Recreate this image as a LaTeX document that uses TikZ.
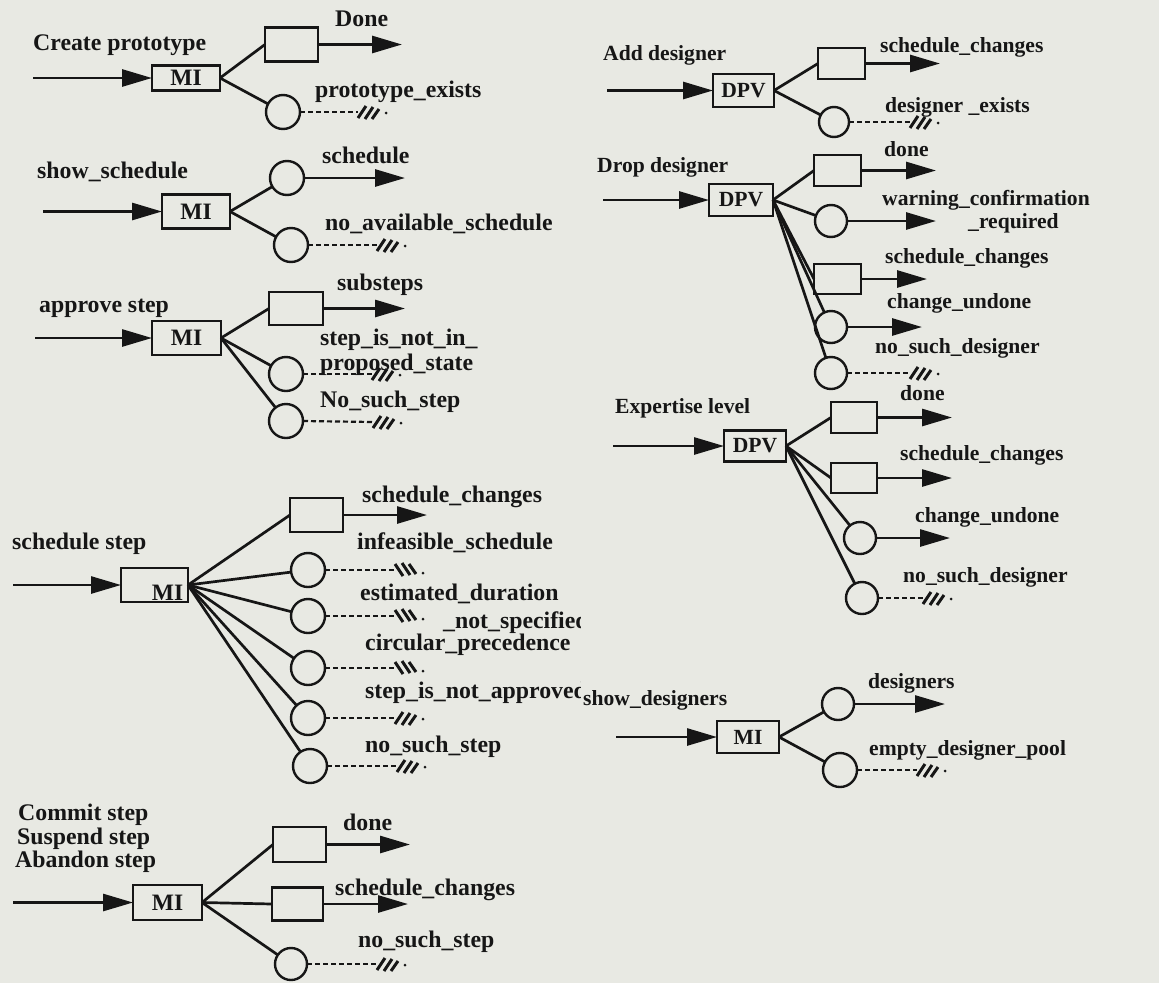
\documentclass[tikz,border=0pt]{standalone}
\usepackage{fontspec}
\setmainfont{Liberation Serif}
\usetikzlibrary{arrows.meta}
\definecolor{bg}{RGB}{232,233,227}
\definecolor{ink}{RGB}{22,22,22}
\begin{document}
\begin{tikzpicture}[x=1pt,y=-1pt, ink, line join=miter,
  lt/.style={anchor=base west, inner sep=0pt, text=ink, font=\fontsize{23.8}{27}\selectfont\bfseries},
  rt/.style={anchor=base west, inner sep=0pt, text=ink, font=\fontsize{21.6}{25}\selectfont\bfseries},
  opbox/.style={draw=ink, line width=2.4pt, inner sep=0pt, outer sep=0pt},
  lop/.style={opbox, font=\fontsize{23.5}{27}\selectfont\bfseries},
  rop/.style={opbox, font=\fontsize{21.6}{25}\selectfont\bfseries},
  resbox/.style={draw=ink, line width=2.4pt, inner sep=0pt, outer sep=0pt},
  rcirc/.style={draw=ink, circle, line width=2.4pt, inner sep=0pt, outer sep=0pt, minimum size=#1},
  rcirc/.default=34pt,
  link/.style={draw=ink, line width=2.7pt},
  arr/.style={draw=ink, line width=2.8pt, -{Triangle[length=30pt,width=17pt]}},
  exc/.style={draw=ink, line width=2.2pt, dash pattern=on 5pt off 3pt},
  hatchf/.pic={\draw[ink, line width=3pt] (0,6)--(8,-6) (7,7)--(15,-5) (14,7)--(21,-3); \fill[ink] (28,1) circle (1.5);},
  hatchb/.pic={\draw[ink, line width=3pt] (0,-6)--(8,6) (7,-7)--(15,5) (14,-6)--(21,4); \fill[ink] (28,3) circle (1.5);}
]
\path[use as bounding box, fill=bg] (0,0) rectangle (1159,983);

% ---------------- Group 1: Create prototype
\node[lt] (l1) at (33,50) {Create prototype};
\coordinate (s1) at (33,78);
\node[lop, minimum width=68pt, minimum height=25pt] (m1) at (186,78) {MI};
\node[resbox, minimum width=53pt, minimum height=34pt] (r1a) at (291.5,44.5) {};
\coordinate (o1a) at (402,44.5);
\node[rcirc] (c1a) at (283,112) {};
\coordinate (h1a) at (358,112);
\draw[arr] (s1) -- (m1.west);
\draw[link] (m1.east) -- (r1a.west);
\draw[link] (m1.east) -- (c1a);
\draw[arr] (r1a.east) -- (o1a);
\draw[exc] (c1a.east) -- (h1a);
\pic at (h1a) {hatchf};
\node[lt] at (335,26) {Done};
\node[lt] at (315,97) {prototype\_exists};

% ---------------- Group 2: show_schedule
\node[lt] (l2) at (37,178) {show\_schedule};
\coordinate (s2) at (43,211.5);
\node[lop, minimum width=68pt, minimum height=34pt] (m2) at (196,211.5) {MI};
\node[rcirc] (c2a) at (287,178) {};
\coordinate (o2a) at (405,178);
\node[rcirc] (c2b) at (291,245) {};
\coordinate (h2b) at (377,245);
\draw[arr] (s2) -- (m2.west);
\draw[link] (m2.east) -- (c2a);
\draw[link] (m2.east) -- (c2b);
\draw[arr] (c2a.east) -- (o2a);
\draw[exc] (c2b.east) -- (h2b);
\pic at (h2b) {hatchf};
\node[lt] at (322,163) {schedule};
\node[lt] at (325,230) {no\_available\_schedule};

% ---------------- Group 3: approve step
\node[lt] (l3) at (39,312) {approve step};
\coordinate (s3) at (35,338);
\node[lop, minimum width=69pt, minimum height=34pt] (m3) at (186.5,338) {MI};
\node[resbox, minimum width=54pt, minimum height=33pt] (r3a) at (296,308.5) {};
\coordinate (o3a) at (405,308.5);
\node[rcirc] (c3a) at (286,374) {};
\coordinate (h3a) at (372,374);
\node[rcirc] (c3b) at (286,421) {};
\coordinate (h3b) at (373,422);
\draw[arr] (s3) -- (m3.west);
\draw[link] (m3.east) -- (r3a.west);
\draw[link] (m3.east) -- (c3a);
\draw[link] (m3.east) -- (c3b);
\draw[arr] (r3a.east) -- (o3a);
\draw[exc] (c3a.east) -- (h3a);
\pic at (h3a) {hatchf};
\draw[exc] (c3b.east) -- (h3b);
\pic at (h3b) {hatchf};
\node[lt] at (337,290) {substeps};
\node[lt] at (320,345) {step\_is\_not\_in\_};
\node[lt] at (320,370) {proposed\_state};
\node[lt] at (320,407) {No\_such\_step};

% ---------------- Group 4: schedule step
\node[lt] (l4) at (12,549) {schedule step};
\coordinate (s4) at (13,585);
\node[opbox, minimum width=67pt, minimum height=34pt] (m4) at (154.5,585) {};
\node[lt, anchor=base, font=\fontsize{23.5}{27}\selectfont\bfseries] (m4t) at (167.5,600) {MI};
\node[resbox, minimum width=53pt, minimum height=34pt] (r4a) at (316.5,515) {};
\coordinate (o4a) at (427,515);
\node[rcirc] (c4a) at (308,570) {};
\node[rcirc] (c4b) at (308,616) {};
\node[rcirc] (c4c) at (308,668) {};
\node[rcirc] (c4d) at (308,718) {};
\node[rcirc] (c4e) at (310,766) {};
\coordinate (h4a) at (395,570);
\coordinate (h4b) at (395,616);
\coordinate (h4c) at (395,668);
\coordinate (h4d) at (395,718);
\coordinate (h4e) at (397,766);
\draw[arr] (s4) -- (m4.west);
\draw[link] (m4.east) -- (r4a.west);
\foreach \c in {c4a,c4b,c4c,c4d,c4e} \draw[link] (m4.east) -- (\c);
\draw[arr] (r4a.east) -- (o4a);
\draw[exc] (c4a.east) -- (h4a); \pic at (h4a) {hatchb};
\draw[exc] (c4b.east) -- (h4b); \pic at (h4b) {hatchb};
\draw[exc] (c4c.east) -- (h4c); \pic at (h4c) {hatchb};
\draw[exc] (c4d.east) -- (h4d); \pic at (h4d) {hatchf};
\draw[exc] (c4e.east) -- (h4e); \pic at (h4e) {hatchf};
\node[lt] at (362,502) {schedule\_changes};
\node[lt] at (357,549) {infeasible\_schedule};
\node[lt] at (360,600) {estimated\_duration};
\node[lt] at (365,650) {circular\_precedence};
\node[lt] at (365,752) {no\_such\_step};
\begin{scope}
\clip (0,0) rectangle (580,983);
\node[lt] at (443,628) {\_not\_specified};
\node[lt] at (365,698) {step\_is\_not\_approved};
\end{scope}

% ---------------- Group 5: Commit / Suspend / Abandon step
\node[lt] (l5a) at (18,820) {Commit step};
\node[lt] (l5b) at (17,844) {Suspend step};
\node[lt] (l5c) at (15,867) {Abandon step};
\coordinate (s5) at (13,902.5);
\node[lop, minimum width=69pt, minimum height=35pt] (m5) at (167.5,902.5) {MI};
\node[resbox, minimum width=53pt, minimum height=35pt] (r5a) at (299.5,844.5) {};
\node[resbox, minimum width=51pt, minimum height=33pt] (r5b) at (297.5,904) {};
\coordinate (o5a) at (410,844.5);
\coordinate (o5b) at (408,904);
\node[rcirc=32pt] (c5a) at (291,964) {};
\coordinate (h5a) at (377,964);
\draw[arr] (s5) -- (m5.west);
\draw[link] (m5.east) -- (r5a.west);
\draw[link] (m5.east) -- (r5b.west);
\draw[link] (m5.east) -- (c5a);
\draw[arr] (r5a.east) -- (o5a);
\draw[arr] (r5b.east) -- (o5b);
\draw[exc] (c5a.east) -- (h5a); \pic at (h5a) {hatchf};
\node[lt] at (343,830) {done};
\node[lt] at (335,895) {schedule\_changes};
\node[lt] at (358,947) {no\_such\_step};

% ---------------- Group 6: Add designer
\node[rt] (l6) at (603,60) {Add designer};
\coordinate (s6) at (607,90.5);
\node[rop, minimum width=61pt, minimum height=33pt] (m6) at (743.5,90.5) {DPV};
\node[resbox, minimum width=47pt, minimum height=31pt] (r6a) at (841.5,63.5) {};
\coordinate (o6a) at (940,63.5);
\node[rcirc=30pt] (c6a) at (834,122) {};
\coordinate (h6a) at (910,122);
\draw[arr] (s6) -- (m6.west);
\draw[link] (m6.east) -- (r6a.west);
\draw[link] (m6.east) -- (c6a);
\draw[arr] (r6a.east) -- (o6a);
\draw[exc] (c6a.east) -- (h6a); \pic at (h6a) {hatchf};
\node[rt] at (880,52) {schedule\_changes};
\node[rt] at (885,112) {designer \_exists};

% ---------------- Group 7: Drop designer
\node[rt] (l7) at (597,172) {Drop designer};
\coordinate (s7) at (603,200);
\node[rop, minimum width=64pt, minimum height=32pt] (m7) at (741,200) {DPV};
\node[resbox, minimum width=47pt, minimum height=31pt] (r7a) at (837.5,170.5) {};
\node[rcirc=32pt] (c7a) at (831,221) {};
\node[resbox, minimum width=47pt, minimum height=30pt] (r7b) at (837.5,279) {};
\node[rcirc=32pt] (c7b) at (831,327) {};
\node[rcirc=32pt] (c7c) at (831,373) {};
\coordinate (o7a) at (936,170.5);
\coordinate (o7b) at (936,221);
\coordinate (o7c) at (927,279);
\coordinate (o7d) at (922,327);
\coordinate (h7c) at (910,373);
\draw[arr] (s7) -- (m7.west);
\foreach \c in {r7a.west,c7a,r7b.west,c7b,c7c} \draw[link] (m7.east) -- (\c);
\draw[arr] (r7a.east) -- (o7a);
\draw[arr] (c7a.east) -- (o7b);
\draw[arr] (r7b.east) -- (o7c);
\draw[arr] (c7b.east) -- (o7d);
\draw[exc] (c7c.east) -- (h7c); \pic at (h7c) {hatchf};
\node[rt] at (884,156) {done};
\node[rt] at (882,205) {warning\_confirmation};
\node[rt] at (968,228) {\_required};
\node[rt] at (885,263) {schedule\_changes};
\node[rt] at (887,308) {change\_undone};
\node[rt] at (875,353) {no\_such\_designer};

% ---------------- Group 8: Expertise level
\node[rt] (l8) at (615,413) {Expertise level};
\coordinate (s8) at (613,446);
\node[rop, minimum width=62pt, minimum height=31pt] (m8) at (755,446) {DPV};
\node[resbox, minimum width=46pt, minimum height=31pt] (r8a) at (854,417.5) {};
\node[resbox, minimum width=46pt, minimum height=30pt] (r8b) at (854,478) {};
\node[rcirc=32pt] (c8a) at (860,538) {};
\node[rcirc=32pt] (c8b) at (862,598) {};
\coordinate (o8a) at (952,417.5);
\coordinate (o8b) at (952,478);
\coordinate (o8c) at (950,538);
\coordinate (h8d) at (923,598);
\draw[arr] (s8) -- (m8.west);
\foreach \c in {r8a.west,r8b.west,c8a,c8b} \draw[link] (m8.east) -- (\c);
\draw[arr] (r8a.east) -- (o8a);
\draw[arr] (r8b.east) -- (o8b);
\draw[arr] (c8a.east) -- (o8c);
\draw[exc] (c8b.east) -- (h8d); \pic at (h8d) {hatchf};
\node[rt] at (900,400) {done};
\node[rt] at (900,460) {schedule\_changes};
\node[rt] at (915,522) {change\_undone};
\node[rt] at (903,582) {no\_such\_designer};

% ---------------- Group 9: show_designers
\node[rt] (l9) at (583,705) {show\_designers};
\coordinate (s9) at (616,737);
\node[rop, minimum width=62pt, minimum height=32pt] (m9) at (748,737) {MI};
\node[rcirc=32pt] (c9a) at (838,704) {};
\node[rcirc=34pt] (c9b) at (840,770) {};
\coordinate (o9a) at (945,704);
\coordinate (h9b) at (917,770);
\draw[arr] (s9) -- (m9.west);
\draw[link] (m9.east) -- (c9a);
\draw[link] (m9.east) -- (c9b);
\draw[arr] (c9a.east) -- (o9a);
\draw[exc] (c9b.east) -- (h9b); \pic at (h9b) {hatchf};
\node[rt] at (868,688) {designers};
\node[rt] at (869,755) {empty\_designer\_pool};
\end{tikzpicture}
\end{document}
